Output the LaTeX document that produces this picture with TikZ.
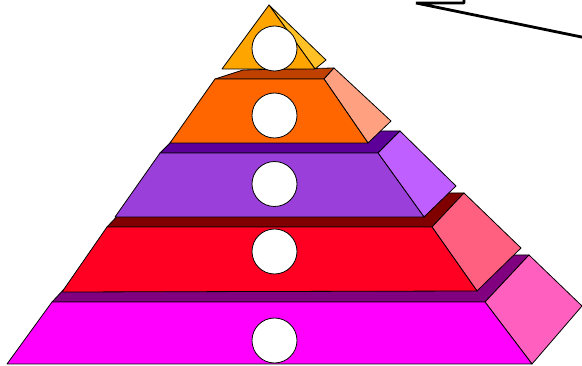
\documentclass[tikz,border=0pt]{standalone}
\definecolor{tipfront}{HTML}{FFA500}
\definecolor{tipside}{HTML}{FFC125}
\definecolor{orfront}{HTML}{FF6600}
\definecolor{ortop}{HTML}{C04000}
\definecolor{orside}{HTML}{FFA080}
\definecolor{vifront}{HTML}{9B3FDB}
\definecolor{vitop}{HTML}{5C0099}
\definecolor{viside}{HTML}{BF5FFF}
\definecolor{rdfront}{HTML}{FF0022}
\definecolor{rdtop}{HTML}{800000}
\definecolor{rdside}{HTML}{FF6080}
\definecolor{mgfront}{HTML}{FF00FF}
\definecolor{mgtop}{HTML}{800080}
\definecolor{mgside}{HTML}{FF60C0}
\begin{document}
\begin{tikzpicture}[
  x=1pt, y=-1pt,
  face/.style={draw, line width=0.8pt, line join=round},
  hole/.style={draw, circle, line width=0.8pt, fill=white,
               minimum size=45pt, inner sep=0pt},
  ptr/.style={draw, line width=2.8pt, line join=bevel}
]
  \useasboundingbox (0,0) rectangle (582,366);

  %% bottom layer (magenta)
  \filldraw[face, fill=mgtop]   (52,302) -- (96,255) -- (529,255) -- (485,302) -- cycle;
  \filldraw[face, fill=mgside]  (485,302) -- (529,255) -- (582,306) -- (532,364) -- cycle;
  \filldraw[face, fill=mgfront] (7,364) -- (52,302) -- (485,302) -- (532,364) -- cycle;

  %% fourth layer (red)
  \filldraw[face, fill=rdtop]   (107,227) -- (139,193) -- (464,193) -- (432,227) -- cycle;
  \filldraw[face, fill=rdside]  (432,227) -- (464,193) -- (521,248) -- (477,291) -- cycle;
  \filldraw[face, fill=rdfront] (62,292) -- (107,227) -- (432,227) -- (477,291) -- cycle;

  %% third layer (violet)
  \filldraw[face, fill=vitop]   (160,153) -- (182,131) -- (400,131) -- (378,153) -- cycle;
  \filldraw[face, fill=viside]  (378,153) -- (400,131) -- (456,186) -- (424,217) -- cycle;
  \filldraw[face, fill=vifront] (115,217) -- (160,153) -- (378,153) -- (424,217) -- cycle;

  %% second layer (orange)
  \filldraw[face, fill=ortop]   (215,79) -- (243,70) -- (334,68) -- (324,79) -- cycle;
  \filldraw[face, fill=orside]  (324,79) -- (334,68) -- (391,121) -- (368,143) -- cycle;
  \filldraw[face, fill=orfront] (170,143) -- (215,79) -- (324,79) -- (368,143) -- cycle;

  %% tip
  \filldraw[face, fill=tipside]  (269,5) -- (326,60) -- (315,69) -- cycle;
  \filldraw[face, fill=tipfront] (222,69) -- (269,5) -- (315,69) -- cycle;

  %% holes
  \foreach \yy [count=\i] in {48.5, 115.5, 184, 251.5, 340.5}
    \node[hole] (h\i) at (274.5,\yy) {};

  %% pointer leaving the picture
  \coordinate (pa) at (464,-2);
  \coordinate (pb) at (464,3);
  \coordinate (pc) at (416,3);
  \coordinate (pd) at (584,37.5);
  \draw[ptr] (pa) -- (pb) -- (pc) -- (pd);
\end{tikzpicture}
\end{document}
